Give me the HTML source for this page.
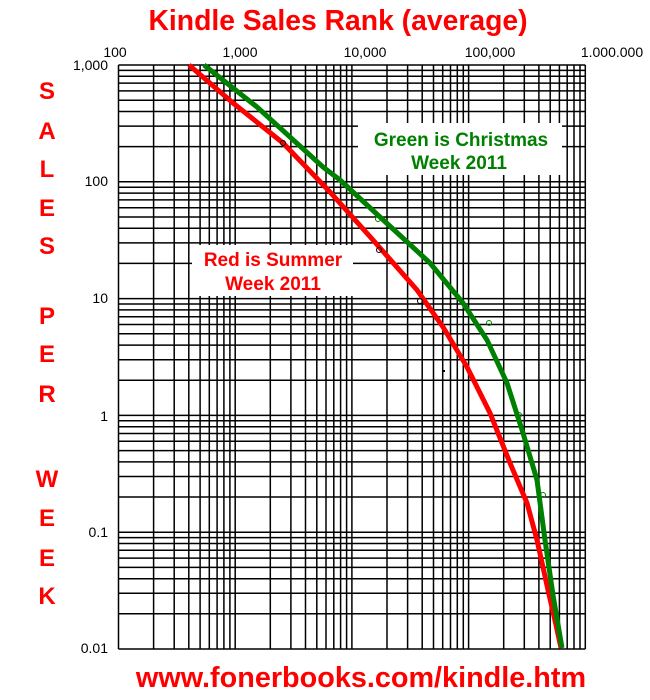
<!DOCTYPE html><html><head><style>body{margin:0;background:#fff}svg{display:block}</style></head><body>
<svg width="650" height="700" xmlns="http://www.w3.org/2000/svg" font-family="Liberation Sans, sans-serif">
<rect width="650" height="700" fill="#fff"/>
<path fill="none" stroke="#000" stroke-width="1.5" d="
M118.5 65V649M153.6 65V649M174.2 65V649M188.8 65V649M200.1 65V649M209.3 65V649M217.1 65V649M223.9 65V649M229.9 65V649
M235.2 65V649M270.3 65V649M290.9 65V649M305.5 65V649M316.8 65V649M326 65V649M333.8 65V649M340.6 65V649M346.6 65V649
M351.9 65V649M387 65V649M407.6 65V649M422.2 65V649M433.5 65V649M442.7 65V649M450.5 65V649M457.3 65V649M463.3 65V649
M468.6 65V649M503.7 65V649M524.3 65V649M538.9 65V649M550.2 65V649M559.4 65V649M567.2 65V649M574 65V649M580 65V649M585.3 65V649
M118.5 649H585.3M118.5 613.8H585.3M118.5 593.3H585.3M118.5 578.7H585.3M118.5 567.4H585.3M118.5 558.1H585.3M118.5 550.3H585.3M118.5 543.5H585.3M118.5 537.6H585.3
M118.5 532.2H585.3M118.5 497H585.3M118.5 476.5H585.3M118.5 461.9H585.3M118.5 450.6H585.3M118.5 441.3H585.3M118.5 433.5H585.3M118.5 426.7H585.3M118.5 420.8H585.3
M118.5 415.4H585.3M118.5 380.2H585.3M118.5 359.7H585.3M118.5 345.1H585.3M118.5 333.8H585.3M118.5 324.5H585.3M118.5 316.7H585.3M118.5 309.9H585.3M118.5 304H585.3
M118.5 298.6H585.3M118.5 263.4H585.3M118.5 242.9H585.3M118.5 228.3H585.3M118.5 217H585.3M118.5 207.7H585.3M118.5 199.9H585.3M118.5 193.1H585.3M118.5 187.2H585.3
M118.5 181.8H585.3M118.5 146.6H585.3M118.5 126.1H585.3M118.5 111.5H585.3M118.5 100.2H585.3M118.5 90.9H585.3M118.5 83.1H585.3M118.5 76.3H585.3M118.5 70.4H585.3M118.5 65H585.3"/>
<polyline fill="none" stroke="#f00" stroke-width="5" stroke-linejoin="round" points="189,65 233,103 283,143 330,192 373,240 417,290 443,327 467,367 490,413 510,463 527,503 537,540 548,590 556,625 561,648"/>
<polyline fill="none" stroke="#008000" stroke-width="5" stroke-linejoin="round" points="204,65 257,107 323,167 340,180 380,217 430,263 463,303 487,340 507,383 523,433 537,480 545,540 553,595 562,648"/>
<g fill="none" stroke="#000" stroke-width="1"><circle cx="283" cy="143" r="2.5"/><circle cx="379" cy="250" r="2.5"/><circle cx="420" cy="301" r="2.5"/></g>
<g fill="none" stroke="#008000" stroke-width="1"><circle cx="378" cy="219" r="2.5"/><circle cx="489" cy="323" r="2.5"/><circle cx="519" cy="415" r="2.5"/><circle cx="543" cy="495" r="2.5"/></g>
<rect x="443" y="370" width="2" height="2" fill="#000"/>
<rect x="358" y="123" width="204" height="52" fill="#fff"/>
<rect x="192" y="245" width="161" height="51" fill="#fff"/>
<g font-weight="bold" font-size="19" text-anchor="middle" fill="#008000"><text x="461" y="146">Green is Christmas</text><text x="459" y="169">Week 2011</text></g>
<g font-weight="bold" font-size="19" text-anchor="middle" fill="#f00"><text x="273" y="266">Red is Summer</text><text x="273" y="290">Week 2011</text></g>
<g font-size="14" fill="#000" text-anchor="middle"><text x="115" y="57">100</text><text x="240" y="57">1,000</text><text x="365" y="57">10,000</text><text x="490" y="57">100,000</text><text x="612" y="57">1.000.000</text></g>
<g font-size="14" fill="#000" text-anchor="end"><text x="108" y="70">1,000</text><text x="108" y="186">100</text><text x="108" y="303">10</text><text x="108" y="421">1</text><text x="108" y="537">0.1</text><text x="108" y="653">0.01</text></g>
<text x="338" y="30" font-size="28.3" font-weight="bold" fill="#f00" text-anchor="middle">Kindle Sales Rank (average)</text>
<text x="361" y="687" font-size="28.8" font-weight="bold" fill="#f00" text-anchor="middle">www.fonerbooks.com/kindle.htm</text>
<g font-size="24" font-weight="bold" fill="#f00" text-anchor="middle"><text x="47" y="99">S</text><text x="47" y="139">A</text><text x="47" y="177">L</text><text x="47" y="216">E</text><text x="47" y="254">S</text><text x="47" y="324">P</text><text x="47" y="362">E</text><text x="47" y="402">R</text><text x="47" y="487">W</text><text x="47" y="526">E</text><text x="47" y="566">E</text><text x="47" y="604">K</text></g>
</svg></body></html>
